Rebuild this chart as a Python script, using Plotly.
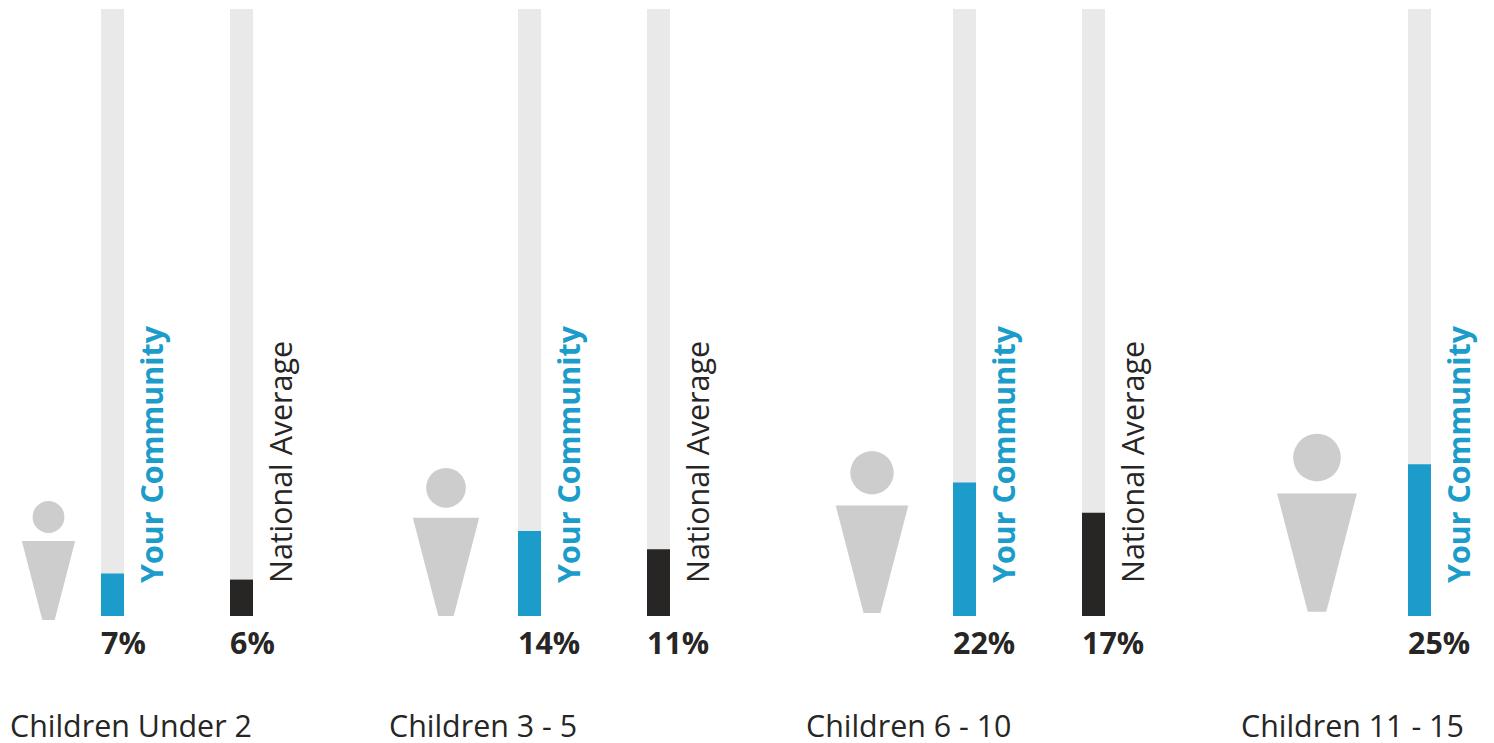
import plotly.graph_objects as go

# Age groups and shares (percent of population)
groups = ["Children Under 2", "Children 3 - 5", "Children 6 - 10", "Children 11 - 15"]
community = [7, 14, 22, 25]
national = [6, 11, 17]
series_names = ["Your Community", "National Average"]

# Horizontal layout, in page pixels
community_x = [112.5, 529.5, 964.5, 1419.5]
national_x = [241.5, 658.5, 1093.5]
label_center_x = [130.5, 483, 908.5, 1352.5]
bar_width = 23

# Person icons: centre, lowest point and overall height, in pixels
icon_cx = [48.5, 446, 872, 1317]
icon_bottom = [620, 616, 613, 611.7]
icon_height = [119, 148, 162, 178]

WIDTH, HEIGHT = 1494, 743
BAR_TOP, BAR_BASE = 9, 616
PX_PER_UNIT = (BAR_BASE - BAR_TOP) / 100

BLUE = "#1b9cca"
DARK = "#272625"
TRACK = "#e9e9e9"
ICON = "#cdcdcd"
FONT = "Open Sans"
TEXT_SIZE = 30.4


def y_from_px(py):
    return (BAR_BASE - py) / PX_PER_UNIT


fig = go.Figure()

track_x = community_x + national_x
fig.add_bar(x=track_x, y=[100] * len(track_x), width=bar_width,
            marker=dict(color=TRACK, line_width=0), hoverinfo="skip")
fig.add_bar(x=community_x, y=community, width=bar_width, name=series_names[0],
            marker=dict(color=BLUE, line_width=0))
fig.add_bar(x=national_x, y=national, width=bar_width, name=series_names[1],
            marker=dict(color=DARK, line_width=0))

# Person icon: a head above a tapering body, scaled by its height
for cx, bottom, h in zip(icon_cx, icon_bottom, icon_height):
    r = 0.134 * h
    head_y = bottom - h + r
    top = bottom - 0.664 * h
    hw_top, hw_bottom = 0.224 * h, 0.052 * h
    fig.add_shape(type="circle", xref="x", yref="y", line_width=0, fillcolor=ICON,
                  x0=cx - r, x1=cx + r,
                  y0=y_from_px(head_y + r), y1=y_from_px(head_y - r))
    fig.add_shape(type="path", xref="x", yref="y", line_width=0, fillcolor=ICON,
                  path=(f"M {cx - hw_top} {y_from_px(top)} L {cx + hw_top} {y_from_px(top)} "
                        f"L {cx + hw_bottom} {y_from_px(bottom)} "
                        f"L {cx - hw_bottom} {y_from_px(bottom)} Z"))


def percent_label(x, value):
    fig.add_annotation(x=x - bar_width / 2, y=0, text=f"<b>{value}%</b>", showarrow=False,
                       xanchor="left", yanchor="middle", yshift=-26, xshift=-2,
                       font=dict(family=FONT, size=TEXT_SIZE, color=DARK))


def series_label(x, text, color, bold):
    fig.add_annotation(x=x + 38.5, y=0, text=f"<b>{text}</b>" if bold else text,
                       showarrow=False, textangle=-90, xanchor="center", yanchor="bottom",
                       yshift=31, font=dict(family=FONT, size=TEXT_SIZE, color=color))


for x, v in zip(community_x, community):
    percent_label(x, v)
    series_label(x, series_names[0], BLUE, True)
for x, v in zip(national_x, national):
    percent_label(x, v)
    series_label(x, series_names[1], DARK, False)

for x, name in zip(label_center_x, groups):
    fig.add_annotation(x=x, y=y_from_px(725), text=name, showarrow=False,
                       xanchor="center", yanchor="middle",
                       font=dict(family=FONT, size=TEXT_SIZE, color=DARK))

fig.update_layout(
    width=WIDTH, height=HEIGHT, margin=dict(l=0, r=0, t=0, b=0),
    barmode="overlay", showlegend=False,
    paper_bgcolor="white", plot_bgcolor="white",
    xaxis=dict(range=[0, WIDTH], visible=False, fixedrange=True),
    yaxis=dict(range=[y_from_px(HEIGHT), y_from_px(0)], visible=False, fixedrange=True),
)

fig.write_html("out.html", config=dict(displayModeBar=False))
